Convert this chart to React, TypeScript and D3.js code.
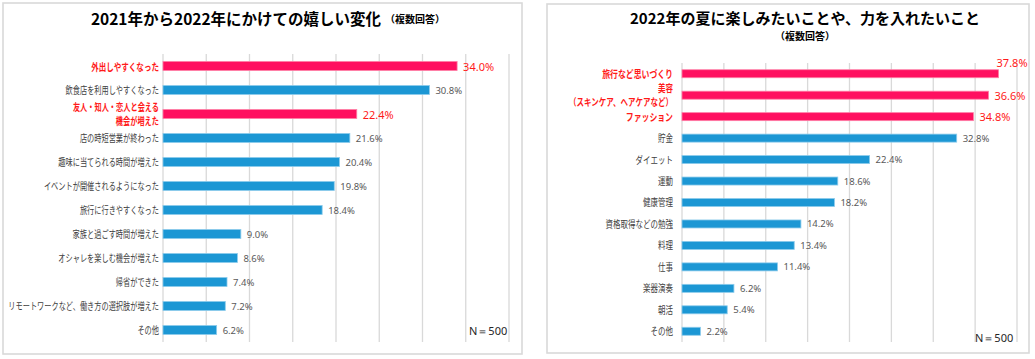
import React from "react";
import * as d3 from "d3";

const leftTitle = "2021年から2022年にかけての嬉しい変化";
const rightTitle = "2022年の夏に楽しみたいことや、力を入れたいこと";
const subTitle = "（複数回答）";
const sampleNote = "N＝500";

const leftCategories = [
  "外出しやすくなった",
  "飲食店を利用しやすくなった",
  "友人・知人・恋人と会える\n機会が増えた",
  "店の時短営業が終わった",
  "趣味に当てられる時間が増えた",
  "イベントが開催されるようになった",
  "旅行に行きやすくなった",
  "家族と過ごす時間が増えた",
  "オシャレを楽しむ機会が増えた",
  "帰省ができた",
  "リモートワークなど、働き方の選択肢が増えた",
  "その他",
];
const leftValues = [34.0, 30.8, 22.4, 21.6, 20.4, 19.8, 18.4, 9.0, 8.6, 7.4, 7.2, 6.2];
const leftHighlight = [true, false, true, false, false, false, false, false, false, false, false, false];

const rightCategories = [
  "旅行など思いづくり",
  "美容\n（スキンケア、ヘアケアなど）",
  "ファッション",
  "貯金",
  "ダイエット",
  "運動",
  "健康管理",
  "資格取得などの勉強",
  "料理",
  "仕事",
  "楽器演奏",
  "朝活",
  "その他",
];
const rightValues = [37.8, 36.6, 34.8, 32.8, 22.4, 18.6, 18.2, 14.2, 13.4, 11.4, 6.2, 5.4, 2.2];
const rightHighlight = [true, true, true, false, false, false, false, false, false, false, false, false, false];

const gridTicks = [0, 5, 10, 15, 20, 25, 30, 35, 40];

const FONT = "'Noto Sans CJK JP', 'Noto Sans', sans-serif";
const NUMFONT = "'Noto Sans', 'Open Sans', sans-serif";
const PINK = "#FF1060";
const BLUE = "#1C97D4";
const RED_TEXT = "#FF1A1A";
const GRAY_TEXT = "#595959";
const LABEL_TEXT = "#404040";
const GRID = "#D9D9D9";

type PanelProps = {
  categories: string[];
  values: number[];
  highlight: boolean[];
  x0: number;
  x1: number;
  y0: number;
  y1: number;
  barH: number;
  labelGap: number;
  labelScale: number;
  innerRight: number;
  noteX: number;
  noteY: number;
};

function Panel(p: PanelProps) {
  const x = d3.scaleLinear().domain([0, 40]).range([p.x0, p.x1]);
  const y = d3.scaleBand<string>().domain(p.categories).range([p.y0, p.y1]).padding(0);
  const bw = y.bandwidth();
  return (
    <g>
      {gridTicks.map((t) => (
        <line key={t} x1={x(t)} x2={x(t)} y1={p.y0} y2={p.y1} stroke={GRID} strokeWidth={1.3} />
      ))}
      {p.categories.map((c, i) => {
        const cy = (y(c) as number) + bw / 2;
        const hl = p.highlight[i];
        const end = x(p.values[i]);
        const label = p.values[i].toFixed(1) + "%";
        const lw = hl ? 29 : 24;
        const above = end + 6 + lw > p.innerRight;
        const lines = c.split("\n");
        const multi = lines.length > 1;
        const lh = 14.5;
        const fs = hl ? (multi ? 10 : 10.5) : 10;
        return (
          <g key={c}>
            <rect
              x={x(0)}
              y={cy - p.barH / 2}
              width={end - x(0)}
              height={p.barH}
              fill={hl ? PINK : BLUE}
              stroke={hl ? "#FF7FA6" : "#8CCBEB"}
              strokeWidth={0.8}
            />
            <text
              x={above ? end - 2 : end + 6}
              y={above ? cy - 11 : cy}
              dominantBaseline="central"
              fontFamily={NUMFONT}
              fontSize={hl ? 11 : 9.5}
              fill={hl ? RED_TEXT : GRAY_TEXT}
            >
              {label}
            </text>
            <g transform={`translate(${x(0) - p.labelGap},${cy - ((lines.length - 1) * lh) / 2}) scale(${p.labelScale},1)`}>
              {lines.map((ln, k) => (
                <text
                  key={k}
                  x={0}
                  y={k * lh}
                  textAnchor="end"
                  dominantBaseline="central"
                  fontFamily={FONT}
                  fontSize={fs}
                  fontWeight={hl ? 700 : 400}
                  fill={hl ? RED_TEXT : LABEL_TEXT}
                >
                  {ln}
                </text>
              ))}
            </g>
          </g>
        );
      })}
      <text x={p.noteX} y={p.noteY} dominantBaseline="central" fontFamily={NUMFONT} fontSize={11} fill="#262626">
        {sampleNote}
      </text>
    </g>
  );
}

export default function App() {
  return (
    <svg
      width={1035}
      height={359}
      viewBox="0 0 1035 359"
      style={{ position: "absolute", left: 0, top: 0, background: "#fff" }}
    >
      <rect x={0} y={0} width={1035} height={359} fill="#fff" />
      {/* left panel */}
      <rect x={3} y={3} width={519} height={351} fill="#fff" stroke={GRID} strokeWidth={1.6} />
      <text x={268} y={18} textAnchor="middle" dominantBaseline="central" fontFamily={FONT} fontWeight={700} fill="#000">
        <tspan fontSize={15.5}>{leftTitle}</tspan>
        <tspan fontSize={10} dx={4}>{subTitle}</tspan>
      </text>
      <Panel
        categories={leftCategories}
        values={leftValues}
        highlight={leftHighlight}
        x0={163}
        x1={509}
        y0={54}
        y1={342}
        barH={9}
        labelGap={4}
        labelScale={0.72}
        innerRight={520}
        noteX={469}
        noteY={330}
      />
      {/* right panel */}
      <rect x={547} y={4} width={482} height={349} fill="#fff" stroke={GRID} strokeWidth={1.6} />
      <text x={805} y={17} textAnchor="middle" dominantBaseline="central" fontFamily={FONT} fontWeight={700} fontSize={15} fill="#000">
        {rightTitle}
      </text>
      <text x={805} y={35} textAnchor="middle" dominantBaseline="central" fontFamily={FONT} fontWeight={700} fontSize={10} fill="#000">
        {subTitle}
      </text>
      <Panel
        categories={rightCategories}
        values={rightValues}
        highlight={rightHighlight}
        x0={682}
        x1={1017}
        y0={63}
        y1={342}
        barH={8}
        labelGap={9}
        labelScale={0.75}
        innerRight={1026}
        noteX={975}
        noteY={337}
      />
    </svg>
  );
}
